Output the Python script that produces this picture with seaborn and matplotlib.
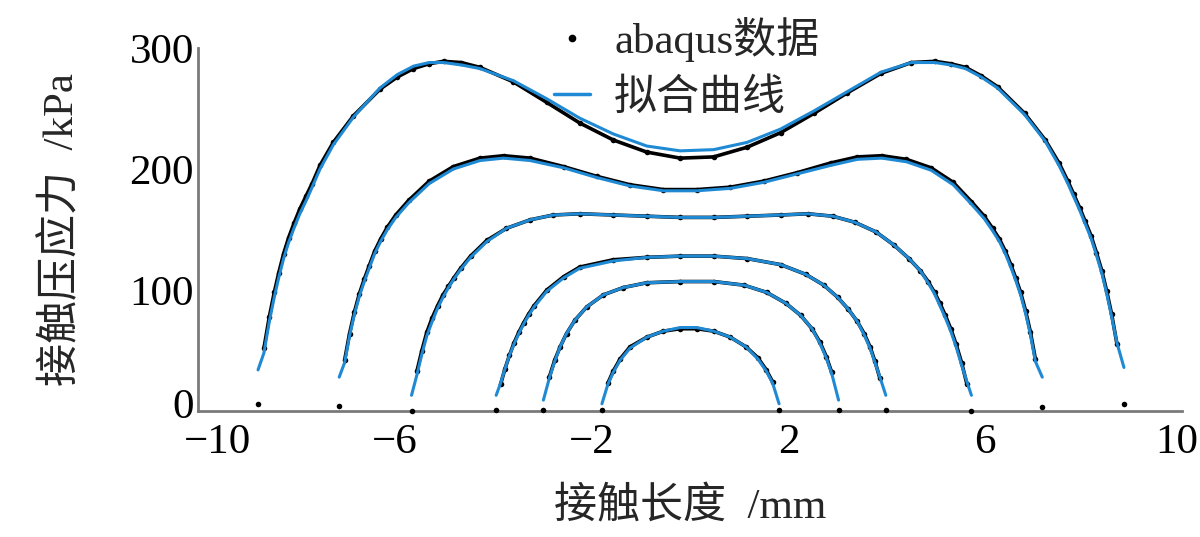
import seaborn as sns
import matplotlib.pyplot as plt
import matplotlib.transforms as mtransforms
from matplotlib.lines import Line2D

# contact length (mm), abaqus contact pressure and fitted curve (kPa), one set per load case
x1 = [-8.78, -8.66, -8.55, -8.45, -8.36, -8.26, -8.16, -8.05, -7.93, -7.80, -7.68, -7.52, -7.25, -6.84, -6.30,
      -5.95, -5.62, -5.30, -5.01, -4.65, -4.27, -3.59, -2.91, -2.24, -1.56, -0.88, -0.20, 0.48, 1.16, 1.84,
      2.52, 3.20, 3.88, 4.50, 4.98, 5.30, 5.60, 5.92, 6.25, 6.80, 7.22, 7.50, 7.68, 7.80, 7.92, 8.03,
      8.15, 8.26, 8.37, 8.47, 8.57, 8.68, 8.82]
abaqus1 = [6, 52, 78, 98, 114, 130, 143, 155, 167, 178, 188, 203, 222, 244, 266,
           276, 283, 287, 289, 288, 284, 272, 255, 238, 224, 214, 209, 210, 218, 230,
           246, 263, 279, 288, 289, 287, 284, 277, 268, 246, 224, 205, 190, 179, 168, 157,
           145, 131, 116, 99, 80, 55, 6]
fit1 = [34, 48, 74, 94, 110, 126, 139, 151, 163, 174, 185, 200, 220, 243, 267,
        278, 285, 288, 288, 286, 283, 273, 258, 242, 229, 219, 215, 216, 222, 233,
        248, 264, 280, 288, 288, 286, 283, 276, 267, 245, 223, 203, 188, 177, 166, 155,
        143, 129, 114, 97, 78, 56, 36]

x2 = [-7.13, -7.02, -6.92, -6.82, -6.72, -6.62, -6.52, -6.41, -6.29, -6.15, -5.98, -5.72, -5.30, -4.81, -4.27,
      -3.79, -3.25, -2.57, -1.90, -1.22, -0.54, 0.14, 0.82, 1.50, 2.18, 2.86, 3.40, 3.90, 4.40, 4.90,
      5.35, 5.72, 5.98, 6.15, 6.29, 6.41, 6.52, 6.62, 6.72, 6.82, 6.92, 7.02, 7.16]
abaqus2 = [4, 42, 64, 82, 97, 109, 120, 132, 142, 152, 162, 174, 190, 202, 209,
           211, 209, 202, 194, 187, 183, 183, 185, 190, 197, 205, 210, 211, 208, 201,
           189, 173, 161, 151, 142, 132, 121, 110, 98, 83, 65, 43, 3]
fit2 = [28, 40, 62, 80, 95, 107, 118, 130, 140, 150, 160, 172, 188, 200, 207,
        209, 207, 201, 193, 186, 182, 182, 184, 189, 196, 203, 208, 209, 206, 199,
        187, 171, 159, 149, 140, 130, 119, 108, 96, 81, 63, 41, 28]

x3 = [-5.66, -5.55, -5.45, -5.35, -5.24, -5.13, -5.02, -4.91, -4.80, -4.66, -4.46, -4.13, -3.73, -3.25,
      -2.78, -2.24, -1.56, -0.88, -0.20, 0.48, 1.16, 1.84, 2.40, 2.90, 3.35, 3.78, 4.15, 4.45,
      4.68, 4.84, 4.97, 5.08, 5.19, 5.30, 5.41, 5.52, 5.63, 5.72]
abaqus3 = [0, 33, 50, 65, 77, 87, 96, 103, 110, 118, 128, 141, 151, 158,
           162, 163, 162, 161, 160, 160, 161, 162, 163, 161, 156, 148, 137, 126,
           116, 107, 98, 89, 79, 68, 55, 40, 22, 0]
fit3 = [13, 30, 47, 62, 74, 85, 94, 102, 109, 117, 127, 140, 151, 158,
        162, 163, 162, 161, 160, 160, 161, 162, 163, 161, 156, 148, 137, 126,
        116, 106, 97, 87, 77, 66, 53, 38, 24, 13]

x4 = [-3.94, -3.85, -3.76, -3.67, -3.58, -3.48, -3.38, -3.28, -3.17, -2.91, -2.57, -2.24, -1.56, -0.88,
      -0.20, 0.48, 1.16, 1.84, 2.35, 2.72, 3.00, 3.22, 3.40, 3.54, 3.66, 3.76, 3.86, 3.98]
abaqus4 = [1, 22, 35, 46, 56, 65, 73, 80, 87, 100, 111, 119, 125, 127,
           128, 128, 126, 121, 113, 104, 94, 84, 74, 64, 53, 41, 27, 1]
fit4 = [13, 23, 35, 46, 55, 64, 72, 79, 86, 99, 110, 118, 124, 127,
        128, 128, 126, 121, 113, 104, 94, 84, 74, 63, 52, 40, 28, 13]

x5 = [-2.98, -2.86, -2.75, -2.64, -2.51, -2.34, -2.10, -1.76, -1.36, -0.88, -0.20,
      0.48, 1.10, 1.56, 1.95, 2.25, 2.48, 2.64, 2.77, 2.88, 3.02]
abaqus5 = [1, 28, 42, 53, 64, 75, 86, 96, 102, 106, 107, 107, 104, 98, 89, 79, 68, 57, 45, 32, 1]
fit5 = [9, 27, 41, 53, 64, 75, 86, 96, 102, 106, 107, 107, 104, 98, 89, 79, 68, 56, 44, 31, 9]

x6 = [-1.79, -1.67, -1.56, -1.42, -1.22, -0.88, -0.54, -0.20, 0.14, 0.48, 0.82, 1.14, 1.38, 1.55, 1.68, 1.81]
abaqus6 = [1, 23, 33, 43, 53, 61, 66, 68, 68, 66, 61, 53, 44, 34, 24, 1]
fit6 = [6, 22, 32, 42, 52, 61, 66, 69, 69, 66, 61, 53, 43, 33, 23, 6]

curves = [(x1, abaqus1, fit1), (x2, abaqus2, fit2), (x3, abaqus3, fit3),
          (x4, abaqus4, fit4), (x5, abaqus5, fit5), (x6, abaqus6, fit6)]

x_ticks = [-10, -6, -2, 2, 6, 10]
y_ticks = [0, 100, 200, 300]

blue = '#1f8ad3'
axis_gray = '#7a7a7a'

sns.set_theme(style='white')
plt.rcParams['font.family'] = ['Liberation Serif', 'Noto Sans CJK SC']
plt.rcParams['axes.unicode_minus'] = True

fig = plt.figure(figsize=(12, 5.37), dpi=100)
ax = fig.add_axes([0.165, 0.2346, 0.82, 0.676])

for xs, ab, ft in curves:
    # abaqus nodes: dense band in the flat part, dots everywhere
    sns.lineplot(x=xs[1:-1], y=ab[1:-1], color='black', linewidth=2.6, sort=False, ax=ax, zorder=2)
    sns.scatterplot(x=xs, y=ab, color='black', s=16, linewidth=0, ax=ax, zorder=3, clip_on=False)
    # fitted curve
    sns.lineplot(x=xs, y=ft, color=blue, linewidth=2.2, sort=False, ax=ax, zorder=4)

ax.set_xlim(-10, 10)
ax.set_ylim(0, 300)
ax.set_xticks(x_ticks)
ax.set_yticks(y_ticks)
ax.tick_params(direction='in', length=5, width=1.5, color=axis_gray, labelsize=31, colors='black')
ax.tick_params(axis='x', pad=9)
ax.tick_params(axis='y', pad=3)
for side in ['top', 'right']:
    ax.spines[side].set_visible(False)
for side in ['left', 'bottom']:
    ax.spines[side].set_color(axis_gray)
    ax.spines[side].set_linewidth(2)

# nudge the corner labels like the original so "0" and "-10" don't collide
xlabels = ax.get_xticklabels()
xlabels[0].set_transform(xlabels[0].get_transform() + mtransforms.ScaledTranslation(0.2, 0, fig.dpi_scale_trans))
xlabels[-1].set_transform(xlabels[-1].get_transform() + mtransforms.ScaledTranslation(-0.05, 0, fig.dpi_scale_trans))
ylabels = ax.get_yticklabels()
ylabels[0].set_transform(ylabels[0].get_transform() + mtransforms.ScaledTranslation(0, 0.08, fig.dpi_scale_trans))

ax.set_xlabel('接触长度  /mm', fontsize=31, labelpad=18)
ax.set_ylabel('接触压应力  /kPa', fontsize=31, labelpad=34)

handles = [Line2D([], [], marker='.', color='black', linestyle='None', markersize=9),
           Line2D([], [], color=blue, linewidth=2.5)]
fig.legend(handles, ['abaqus数据', '拟合曲线'], loc='upper left', bbox_to_anchor=(0.44, 1.017),
           frameon=False, fontsize=31, handlelength=0.85, handletextpad=0.55, labelspacing=0.4, borderpad=0.1)

fig.savefig('out.png', dpi=100)
